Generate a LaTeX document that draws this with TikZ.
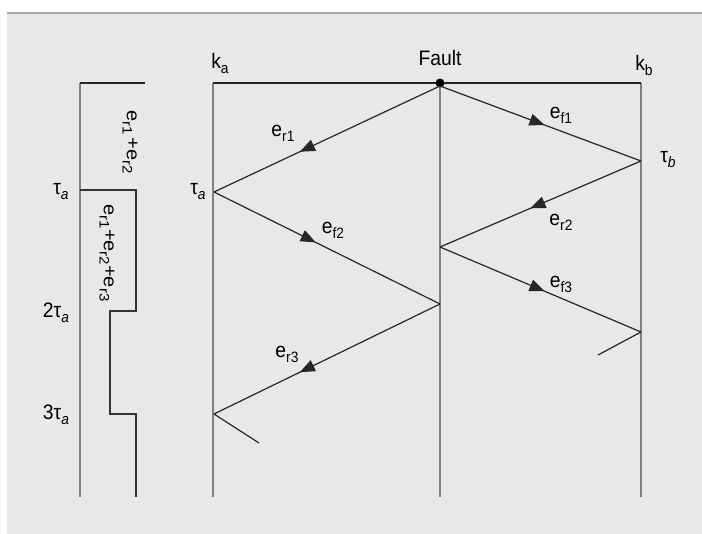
\documentclass[tikz,border=0pt]{standalone}
\usepackage{fontspec}
\setmainfont{Liberation Sans}
\usetikzlibrary{arrows.meta,decorations.markings}
\definecolor{bgc}{RGB}{232,232,232}
\definecolor{wirec}{RGB}{128,128,128}
\newcommand{\sbs}[1]{\raisebox{-0.45ex}{\fontsize{15}{15}\selectfont #1}}
\begin{document}
\begin{tikzpicture}[x=1pt,y=-1pt,
  wire/.style={line width=2.4pt,draw=wirec},
  topline/.style={line width=1.8pt,draw=black!85},
  stepline/.style={line width=1.8pt,draw=black!80},
  wave/.style={line width=1.2pt,draw=black!85},
  markat/.style={postaction={decorate},decoration={markings,mark=at position #1 with {\arrow{Triangle[length=15pt,width=12pt]}}}},
  lbl/.style={font=\fontsize{21}{21}\selectfont,inner sep=0pt,xscale=0.92},
  rlbl/.style={font=\fontsize{20}{20}\selectfont,inner sep=0pt,xscale=0.92},
]
\useasboundingbox (0,0) rectangle (702,534);
\fill[white] (0,0) rectangle (702,534);
\fill[bgc] (7,13) rectangle (702,534);
\draw[black!35,line width=1.2pt] (7,13) -- (702,13);
% coordinates
\coordinate (kaT) at (213,83);
\coordinate (kaB) at (213,497);
\coordinate (FT) at (440,83);
\coordinate (FB) at (440,497);
\coordinate (kbT) at (641,83);
\coordinate (kbB) at (641,497);
\coordinate (Fs) at (440,86);
\coordinate (A1) at (214,192);
\coordinate (B1) at (641,161);
\coordinate (F2b) at (440,247);
\coordinate (F2a) at (440,304);
\coordinate (A3) at (214,414);
\coordinate (B3) at (641,332);
\coordinate (A4) at (259,443);
\coordinate (B4) at (598,355);
\coordinate (L0) at (80,83);
\coordinate (L1) at (145,83);
\coordinate (Lb) at (80,497);
\coordinate (S1) at (80,190);
\coordinate (S2) at (136,190);
\coordinate (S3) at (136,311);
\coordinate (S4) at (110,311);
\coordinate (S5) at (110,414);
\coordinate (S6) at (136,414);
\coordinate (S7) at (136,497);
% vertical lines
\draw[wire] (kaT) -- (kaB);
\draw[wire] (FT) -- (FB);
\draw[wire] (kbT) -- (kbB);
\draw[wire] (L0) -- (Lb);
% top lines
\draw[topline] (kaT) -- (kbT);
\draw[topline] (L0) -- (L1);
% stepped wave
\draw[stepline] (S1) -- (S2) -- (S3) -- (S4) -- (S5) -- (S6) -- (S7);
% fault dot
\node[circle,fill=black,inner sep=0pt,minimum size=9pt] (dot) at (FT) {};
% lattice
\draw[wave,markat=0.62] (Fs) -- (A1);
\draw[wave,markat=0.45] (A1) -- (F2a);
\draw[wave,markat=0.62] (F2a) -- (A3);
\draw[wave] (A3) -- (A4);
\draw[wave,markat=0.52] (Fs) -- (B1);
\draw[wave,markat=0.55] (B1) -- (F2b);
\draw[wave,markat=0.52] (F2b) -- (B3);
\draw[wave] (B3) -- (B4);
% labels
\node[lbl] (lka) at (220,63) {k\sbs{a}};
\node[lbl] (lfault) at (440,58) {Fault};
\node[lbl] (lkb) at (644,65) {k\sbs{b}};
\node[lbl] (ltb) at (668,160) {τ\sbs{\itshape b}};
\node[lbl] (lta) at (198,192) {τ\sbs{\itshape a}};
\node[lbl] (ltaL) at (61,192) {τ\sbs{\itshape a}};
\node[lbl] (l2ta) at (56,313) {2τ\sbs{\itshape a}};
\node[lbl] (l3ta) at (56,415) {3τ\sbs{\itshape a}};
\node[lbl] (ler1) at (283,133) {e\sbs{r1}};
\node[lbl] (lef2) at (333,230) {e\sbs{f2}};
\node[lbl] (ler3) at (287,354) {e\sbs{r3}};
\node[lbl] (lef1) at (561,115) {e\sbs{f1}};
\node[lbl] (ler2) at (561,222) {e\sbs{r2}};
\node[lbl] (lef3) at (561,284) {e\sbs{f3}};
\node[rlbl,rotate=-90] (lsum1) at (130,142) {e\sbs{r1}\,+e\sbs{r2}};
\node[rlbl,rotate=-90] (lsum2) at (107,253) {e\sbs{r1}+e\sbs{r2}+e\sbs{r3}};
\end{tikzpicture}
\end{document}
